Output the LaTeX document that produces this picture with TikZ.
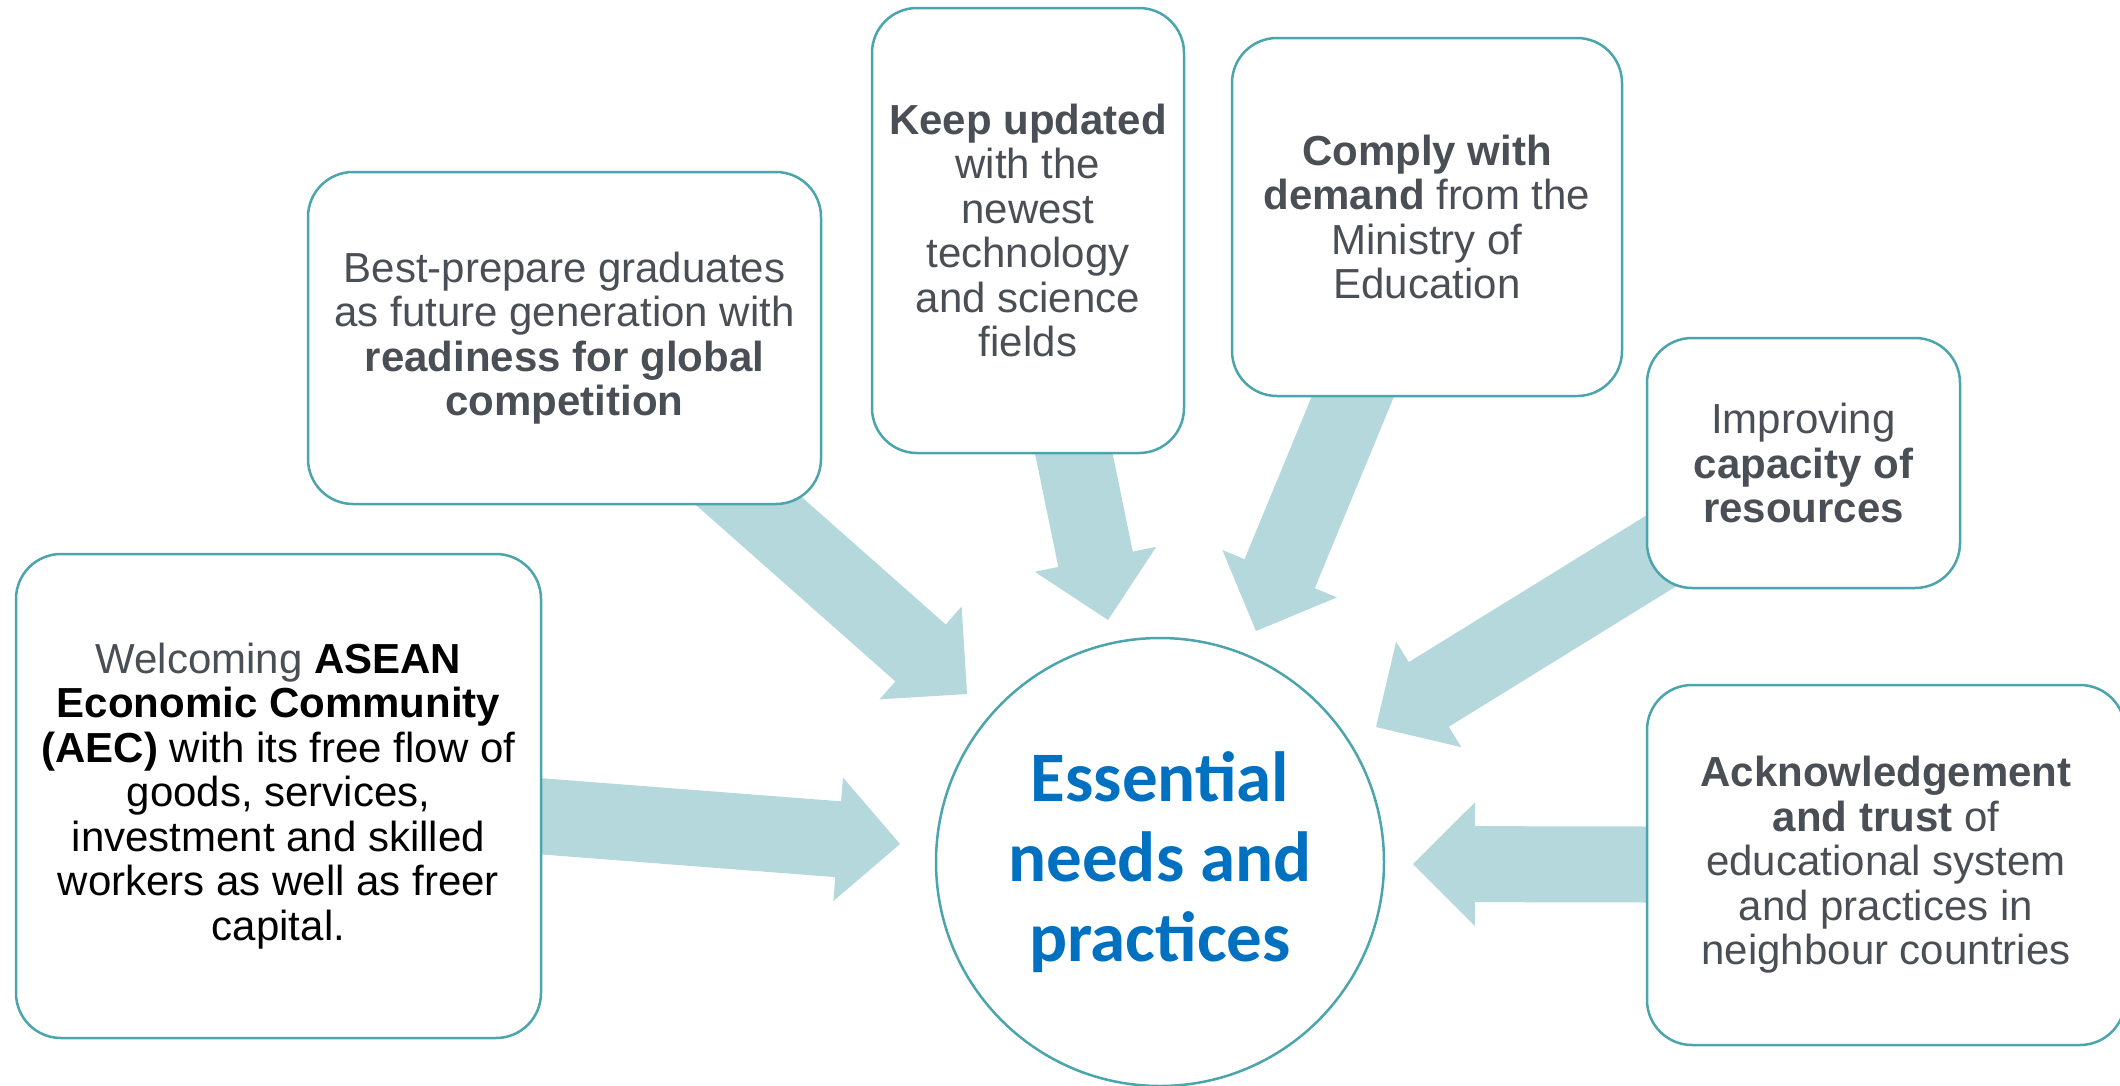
\documentclass[tikz,border=0pt]{standalone}
\usepackage{fontspec}
\setmainfont{Liberation Sans}
\newfontfamily\calib{Carlito}
\usetikzlibrary{calc,backgrounds}
\definecolor{tealline}{RGB}{75,165,172}
\definecolor{arrowblue}{RGB}{180,216,220}
\definecolor{txtgrey}{RGB}{74,78,85}
\definecolor{ctrblue}{RGB}{0,112,192}
\newcommand\blockarrow[2]{%
  \coordinate (#1-h) at ($(#2)!62pt!(#1)$);
  \fill[arrowfill] ($(#1)!38pt!90:(#2)$) -- ($(#1-h)!38pt!90:(#2)$) -- ($(#1-h)!62pt!90:(#2)$) -- (#2)
    -- ($(#1-h)!62pt!-90:(#2)$) -- ($(#1-h)!38pt!-90:(#2)$) -- ($(#1)!38pt!-90:(#2)$) -- cycle;}
\begin{document}
\begin{tikzpicture}[x=1pt,y=-1pt,
  box/.style={draw=tealline, line width=2.5pt, fill=white, rounded corners=45pt, align=center,
    text=txtgrey, font=\fontsize{42}{44.5}\selectfont, inner sep=0pt},
  arrowfill/.style={fill=arrowblue}]
\useasboundingbox (0,0) rectangle (2120,1085);

\node[box, minimum width=525pt, minimum height=484pt] (lbox) at (278.5,796)
  {Welcoming \textcolor{black}{\textbf{ASEAN}}\\ \textcolor{black}{\textbf{Economic Community}}\\
   \textcolor{black}{\textbf{(AEC)} with its free flow of}\\ \textcolor{black}{goods, services,}\\
   \textcolor{black}{investment and skilled}\\ \textcolor{black}{workers as well as freer}\\ \textcolor{black}{capital.}};
\node[box, minimum width=513pt, minimum height=332pt] (bp) at (564.5,338)
  {Best-prepare graduates\\ as future generation with\\ \textbf{readiness for global}\\ \textbf{competition}};
\node[box, minimum width=312pt, minimum height=445pt] (ku) at (1028,230.5)
  {\textbf{Keep updated}\\ with the\\ newest\\ technology\\ and science\\ fields};
\node[box, minimum width=390pt, minimum height=358pt] (cm) at (1427,217)
  {\textbf{Comply with}\\ \textbf{demand} from the\\ Ministry of\\ Education};
\node[box, minimum width=313pt, minimum height=250pt] (im) at (1803.5,463)
  {Improving\\ \textbf{capacity of}\\ \textbf{resources}};
\node[box, minimum width=478pt, minimum height=360pt] (ak) at (1886,865)
  {\textbf{Acknowledgement}\\ \textbf{and trust} of\\ educational system\\ and practices in\\ neighbour countries};
\node[box, circle, minimum size=448pt, text=ctrblue, font=\calib\bfseries\fontsize{71}{80}\selectfont] (ctr) at (1160,862)
  {Essential\\ needs and\\ practices};

\coordinate (t1) at (900,844);
\coordinate (t2) at (967,694);
\coordinate (t3) at (1108,620);
\coordinate (t4) at (1256,631);
\coordinate (t5) at (1376,727);
\coordinate (t6) at (1413,864);

\begin{pgfonlayer}{background}
\fill[white] (0,0) rectangle (2120,1085);
\blockarrow{lbox}{t1}
\blockarrow{bp}{t2}
\blockarrow{ku}{t3}
\blockarrow{cm}{t4}
\blockarrow{im}{t5}
\blockarrow{ak}{t6}
\end{pgfonlayer}
\end{tikzpicture}
\end{document}
